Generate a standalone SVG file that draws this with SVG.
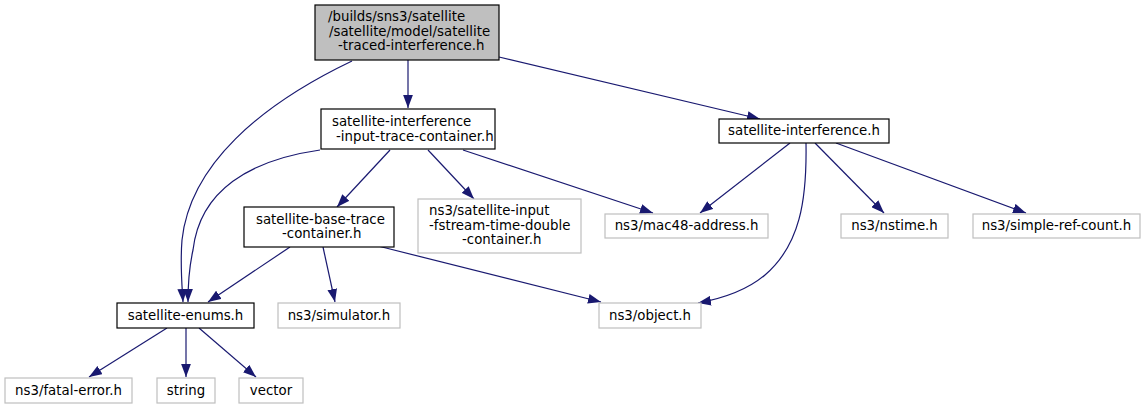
<svg xmlns="http://www.w3.org/2000/svg" width="1146" height="409" viewBox="0 0 1146 409">
<style>
text{font-family:"DejaVu Sans","Liberation Sans",sans-serif;font-size:13.33px;fill:#000}
.n rect{fill:#fff;stroke:#000;stroke-width:1.2}
.x rect{fill:#fff;stroke:#bfbfbf;stroke-width:1.2}
.r rect{fill:#bfbfbf;stroke:#000;stroke-width:1.2}
.m{text-anchor:middle}
#edges path{fill:none;stroke:#191970;stroke-width:1.2;marker-end:url(#ah)}
</style>
<defs>
<marker id="ah" markerUnits="userSpaceOnUse" markerWidth="13" markerHeight="10" refX="12" refY="4.5" orient="auto" viewBox="0 0 12 9">
<path d="M0,0 L12,4.5 L0,9 z" fill="#191970" stroke="none"/>
</marker>
</defs>
<rect width="1146" height="409" fill="#fff"/>
<g id="edges">
<path d="M352,61 C260,105 190,165 182,240 C180,265 182,285 183,302"/>
<path d="M408,60 L408,108"/>
<path d="M499,57 L760,119"/>
<path d="M320,150 C250,160 200,190 193,250 C189,268 188,285 188,302"/>
<path d="M390,150 L337,207"/>
<path d="M428,150 L474,199"/>
<path d="M463,150 L653,213"/>
<path d="M790,143 L700,213"/>
<path d="M806,143 C807,200 800,245 765,275 C745,292 720,299 698,303"/>
<path d="M815,143 L884,213"/>
<path d="M836,143 L1026,213"/>
<path d="M290,247 L208,302"/>
<path d="M323,247 L335,302"/>
<path d="M378,246 L601,302"/>
<path d="M167,328 L89,377"/>
<path d="M186,328 L186,377"/>
<path d="M199,328 L256,377"/>
</g>
<g id="root" class="r">
<rect x="315" y="5" width="184" height="55"/>
<text x="328" y="21">/builds/sns3/satellite</text>
<text x="329" y="35.5">/satellite/model/satellite</text>
<text x="338" y="50">-traced-interference.h</text>
</g>
<g id="input_trace" class="n">
<rect x="321" y="109" width="174" height="40"/>
<text x="332" y="126">satellite-interference</text>
<text x="336" y="140.5">-input-trace-container.h</text>
</g>
<g id="sat_interference" class="n">
<rect x="719" y="119" width="170" height="24"/>
<text class="m" x="804" y="135">satellite-interference.h</text>
</g>
<g id="base_trace" class="n">
<rect x="244" y="207" width="150" height="40"/>
<text x="256" y="223.5">satellite-base-trace</text>
<text x="282" y="238">-container.h</text>
</g>
<g id="fstream" class="x">
<rect x="418" y="199" width="163" height="54"/>
<text x="429" y="215">ns3/satellite-input</text>
<text x="429" y="229.5">-fstream-time-double</text>
<text x="462" y="244">-container.h</text>
</g>
<g id="mac48" class="x">
<rect x="605" y="214" width="163" height="24"/>
<text class="m" x="686.5" y="230">ns3/mac48-address.h</text>
</g>
<g id="nstime" class="x">
<rect x="841" y="214" width="107" height="24"/>
<text class="m" x="894.5" y="230">ns3/nstime.h</text>
</g>
<g id="simple_ref" class="x">
<rect x="973" y="214" width="167" height="24"/>
<text class="m" x="1056.5" y="230">ns3/simple-ref-count.h</text>
</g>
<g id="enums" class="n">
<rect x="117" y="303" width="137" height="25"/>
<text class="m" x="185.5" y="319.5">satellite-enums.h</text>
</g>
<g id="simulator" class="x">
<rect x="278" y="303" width="122" height="25"/>
<text class="m" x="339" y="319.5">ns3/simulator.h</text>
</g>
<g id="object" class="x">
<rect x="599" y="303" width="102" height="25"/>
<text class="m" x="650" y="319.5">ns3/object.h</text>
</g>
<g id="fatal" class="x">
<rect x="5" y="378" width="127" height="25"/>
<text class="m" x="68.5" y="394.5">ns3/fatal-error.h</text>
</g>
<g id="string" class="x">
<rect x="157" y="378" width="58" height="25"/>
<text class="m" x="186" y="394.5">string</text>
</g>
<g id="vector" class="x">
<rect x="239" y="378" width="64" height="25"/>
<text class="m" x="271" y="394.5">vector</text>
</g>
</svg>
